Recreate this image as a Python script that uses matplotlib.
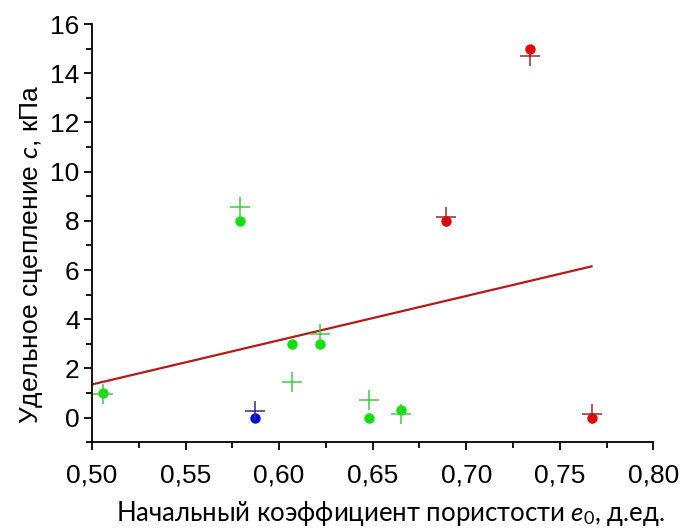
import matplotlib
matplotlib.use('Agg')
import matplotlib.pyplot as plt
from matplotlib.ticker import MultipleLocator, FuncFormatter

plt.rcParams['font.family'] = ['Liberation Sans', 'DejaVu Sans']
plt.rcParams['mathtext.fontset'] = 'custom'
plt.rcParams['mathtext.rm'] = 'Lato'
plt.rcParams['mathtext.it'] = 'Lato:italic'

# Measured points (circles) by group
green_x = [0.506, 0.579, 0.607, 0.622, 0.648, 0.665]
green_y = [1.0, 8.0, 3.0, 3.0, 0.0, 0.3]
blue_x = [0.587]
blue_y = [0.0]
red_x = [0.689, 0.734, 0.767]
red_y = [8.0, 15.0, 0.0]

# Calculated values (crosses)
green_calc_y = [0.97, 8.55, 1.44, 3.39, 0.72, 0.15]
blue_calc_y = [0.28]
red_calc_y = [8.14, 14.7, 0.15]

# Trend line
fit_x = [0.50, 0.767]
fit_y = [1.35, 6.15]

fig = plt.figure(figsize=(6.81, 5.29), dpi=100)
ax = fig.add_axes([0.1351, 0.1639, 0.8242, 0.7907])

ax.plot(fit_x, fit_y, color='#b81818', lw=1.6, zorder=2)

ax.plot(green_x, green_y, 'o', color='#10e010', ms=7.5, mec='none', zorder=3)
ax.plot(green_x, green_calc_y, '+', color='#40cc40', ms=15, mew=1.1, zorder=3)
ax.plot(blue_x, blue_y, 'o', color='#0010d0', ms=7.5, mec='none', zorder=3)
ax.plot(blue_x, blue_calc_y, '+', color='#303090', ms=15, mew=1.1, zorder=3)
ax.plot(red_x, red_y, 'o', color='#ee0000', ms=7.5, mec='none', zorder=3)
ax.plot(red_x, red_calc_y, '+', color='#9a2a2a', ms=15, mew=1.1, zorder=3)

ax.set_xlim(0.50, 0.80)
ax.set_ylim(-1, 16)
ax.xaxis.set_major_locator(MultipleLocator(0.05))
ax.xaxis.set_minor_locator(MultipleLocator(0.025))
ax.yaxis.set_major_locator(MultipleLocator(2))
ax.yaxis.set_minor_locator(MultipleLocator(1))
ax.xaxis.set_major_formatter(FuncFormatter(lambda v, p: f'{v:.2f}'.replace('.', ',')))
ax.yaxis.set_major_formatter(FuncFormatter(lambda v, p: f'{v:.0f}'))

for s in ['top', 'right']:
    ax.spines[s].set_visible(False)
for s in ['left', 'bottom']:
    ax.spines[s].set_linewidth(1.3)
ax.tick_params(which='major', direction='out', length=6, width=1.3, labelsize=19, pad=3)
ax.tick_params(which='minor', direction='out', length=4, width=1.3)
ax.tick_params(axis='x', pad=9)

ax.set_ylabel('Удельное сцепление $c$, кПа', fontsize=19)
ax.set_xlabel('Начальный коэффициент пористости $e_0$, д.ед.',
              fontsize=18.5, family=['Lato', 'DejaVu Sans'])
ax.yaxis.set_label_coords(-0.084, 0.45)
ax.xaxis.set_label_coords(0.532, -0.135)

fig.savefig('out.png', dpi=100)
